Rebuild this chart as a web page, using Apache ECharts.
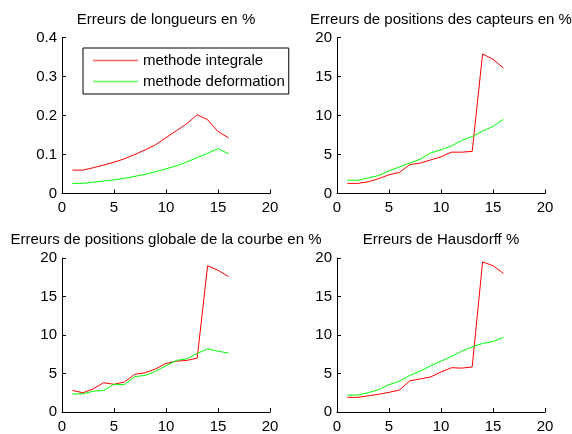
<!DOCTYPE html>
<html>
<head>
<meta charset="utf-8">
<script src="https://cdn.jsdelivr.net/npm/echarts@6/dist/echarts.min.js"></script>
<style>
  html, body { margin: 0; padding: 0; background: #fff; }
  #chart { width: 572px; height: 434px; }
</style>
</head>
<body>
<div id="chart"></div>
<script>
// Sample index (x) shared by all four panels
const steps = [1, 2, 3, 4, 5, 6, 7, 8, 9, 10, 11, 12, 13, 14, 15, 16];

const seriesNames = ['methode integrale', 'methode deformation'];
const panelTitles = [
  'Erreurs de longueurs en %',
  'Erreurs de positions des capteurs en %',
  'Erreurs de positions globale de la courbe en %',
  'Erreurs de Hausdorff %'
];

// Length errors
const longueurIntegrale = [0.060, 0.060, 0.066, 0.073, 0.080, 0.089, 0.100, 0.112, 0.125, 0.143, 0.161, 0.179, 0.202, 0.189, 0.159, 0.143];
const longueurDeformation = [0.026, 0.026, 0.029, 0.032, 0.035, 0.039, 0.044, 0.049, 0.056, 0.063, 0.071, 0.081, 0.092, 0.103, 0.115, 0.102];

// Sensor position errors
const capteursIntegrale = [1.3, 1.3, 1.5, 1.9, 2.4, 2.7, 3.7, 3.9, 4.3, 4.7, 5.3, 5.3, 5.4, 17.9, 17.2, 16.1];
const capteursDeformation = [1.7, 1.7, 2.0, 2.3, 2.9, 3.4, 3.9, 4.4, 5.2, 5.6, 6.1, 6.8, 7.3, 8.0, 8.6, 9.5];

// Global curve position errors
const globaleIntegrale = [2.8, 2.5, 3.0, 3.8, 3.6, 3.9, 4.9, 5.1, 5.6, 6.3, 6.6, 6.7, 7.0, 19.0, 18.4, 17.6];
const globaleDeformation = [2.35, 2.35, 2.7, 2.8, 3.6, 3.55, 4.6, 4.75, 5.3, 6.0, 6.7, 6.9, 7.6, 8.2, 7.9, 7.65];

// Hausdorff errors
const hausdorffIntegrale = [1.9, 1.9, 2.1, 2.3, 2.55, 2.85, 4.05, 4.3, 4.55, 5.2, 5.75, 5.7, 5.85, 19.5, 19.0, 18.0];
const hausdorffDeformation = [2.2, 2.2, 2.5, 2.9, 3.55, 4.0, 4.75, 5.3, 6.0, 6.6, 7.2, 7.9, 8.45, 8.9, 9.15, 9.7];

const panelData = [
  [longueurIntegrale, longueurDeformation],
  [capteursIntegrale, capteursDeformation],
  [globaleIntegrale, globaleDeformation],
  [hausdorffIntegrale, hausdorffDeformation]
];
const yRanges = [[0, 0.4, 0.1], [0, 20, 5], [0, 20, 5], [0, 20, 5]];
const xRange = [0, 20, 5];

const FONT = 'Liberation Sans, Arial, sans-serif';
const colors = ['#ff0000', '#00ff00'];

// Panel placement (pixels)
const grids = [
  { left: 62, top: 37.5, width: 208, height: 156 },
  { left: 337, top: 37.5, width: 208, height: 156 },
  { left: 62, top: 258, width: 208, height: 158 },
  { left: 337, top: 258, width: 208, height: 158 }
];

const axisCommon = {
  axisLine: { show: true, onZero: false, lineStyle: { color: '#000', width: 1 } },
  axisTick: { show: true, inside: true, length: 4, lineStyle: { color: '#000' } },
  axisLabel: { color: '#000', fontFamily: FONT, fontSize: 15 },
  splitLine: { show: false }
};

const xAxes = grids.map((g, i) => Object.assign({}, axisCommon, {
  type: 'value', gridIndex: i,
  min: xRange[0], max: xRange[1], interval: xRange[2],
  axisLabel: Object.assign({}, axisCommon.axisLabel, { margin: 7 })
}));
const yAxes = grids.map((g, i) => Object.assign({}, axisCommon, {
  type: 'value', gridIndex: i,
  min: yRanges[i][0], max: yRanges[i][1], interval: yRanges[i][2],
  axisLabel: Object.assign({}, axisCommon.axisLabel, { margin: 5 })
}));

const series = [];
panelData.forEach((pair, i) => {
  pair.forEach((vals, k) => {
    series.push({
      type: 'line',
      name: seriesNames[k],
      xAxisIndex: i, yAxisIndex: i,
      data: steps.map((s, j) => [s, vals[j]]),
      symbol: 'none', showSymbol: false,
      lineStyle: { color: colors[k], width: 1 },
      itemStyle: { color: colors[k] },
      animation: false
    });
  });
});

const titles = panelTitles.map((t, i) => ({
  text: t,
  left: grids[i].left + grids[i].width / 2,
  top: i < 2 ? 12 : 232,
  textAlign: 'center',
  padding: 0,
  textStyle: { color: '#000', fontFamily: FONT, fontSize: 15, fontWeight: 'normal' }
}));

const chart = echarts.init(document.getElementById('chart'), null, { renderer: 'canvas' });
chart.setOption({
  animation: false,
  backgroundColor: '#fff',
  title: titles,
  grid: grids.map(g => Object.assign({ containLabel: false }, g)),
  xAxis: xAxes,
  yAxis: yAxes,
  legend: {
    data: seriesNames,
    orient: 'vertical',
    left: 83, top: 48,
    icon: 'rect',
    itemWidth: 45, itemHeight: 1.5, itemGap: 4,
    padding: [4, 4, 4, 10],
    itemStyle: { opacity: 0.6 },
    borderColor: '#000', borderWidth: 1, backgroundColor: '#fff',
    textStyle: { color: '#000', fontFamily: FONT, fontSize: 15, lineHeight: 17 },
    selectedMode: false
  },
  series: series
});
</script>
</body>
</html>
